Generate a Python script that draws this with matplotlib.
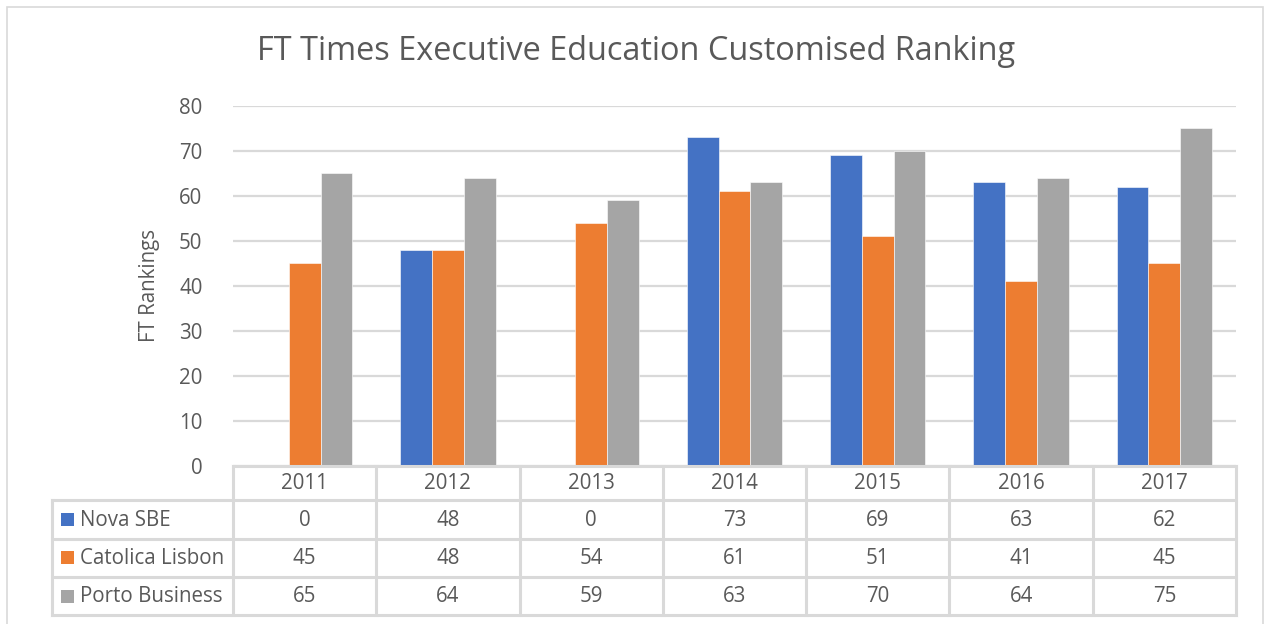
import matplotlib.pyplot as plt
import numpy as np
from matplotlib.patches import Rectangle
from matplotlib.lines import Line2D

# data
years = ['2011', '2012', '2013', '2014', '2015', '2016', '2017']
nova = [0, 48, 0, 73, 69, 63, 62]
catolica = [45, 48, 54, 61, 51, 41, 45]
porto = [65, 64, 59, 63, 70, 64, 75]
series_names = ['Nova SBE', 'Catolica Lisbon', 'Porto Business']
colors = ['#4472C4', '#ED7D31', '#A5A5A5']

plt.rcParams['font.family'] = ['Open Sans', 'DejaVu Sans']
txt = '#595959'
grid_c = '#D9D9D9'
fs = 14.8

W, H = 1265, 624
fig = plt.figure(figsize=(W / 100, H / 100), dpi=100)


def fx(px):
    return px / W


def fy(py):
    return 1 - py / H


# outer chart border
fig.patches.append(Rectangle((fx(7), fy(640)), fx(1263 - 7), (640 - 7) / H,
                             transform=fig.transFigure, fill=False,
                             edgecolor=grid_c, linewidth=1.2))

# ---- bar area ----
left, right, top, bottom = 233, 1236, 105.7, 465.7
ax = fig.add_axes([fx(left), fy(bottom), fx(right - left), (bottom - top) / H])
x = np.arange(len(years))
w = 0.222
for i, vals in enumerate([nova, catolica, porto]):
    ax.bar(x + (i - 1) * w, vals, width=w, color=colors[i],
           edgecolor='white', linewidth=0.4, zorder=3)
ax.set_xlim(-0.5, len(years) - 0.5)
ax.set_ylim(0, 80)
ax.set_yticks(range(0, 81, 10))
ax.set_xticks([])
ax.grid(axis='y', color=grid_c, linewidth=1.6, zorder=0)
for s in ax.spines.values():
    s.set_visible(False)
ax.tick_params(axis='y', length=0, pad=22, labelsize=fs, labelcolor=txt)
ax.set_ylabel('FT Rankings', fontsize=fs, color=txt, labelpad=14)

fig.text(fx(636), fy(52), 'FT Times Executive Education Customised Ranking',
         ha='center', va='center', fontsize=23.4, color=txt)

# ---- data table ----
rows_y = [465.7, 500, 538.5, 577, 615]
col_w = (right - left) / len(years)
lab_left = 52
lc = grid_c
lw = 2.2


def hline(y, x0, x1):
    fig.add_artist(Line2D([fx(x0), fx(x1)], [fy(y), fy(y)], color=lc,
                          linewidth=lw, transform=fig.transFigure))


def vline(xp, y0, y1):
    fig.add_artist(Line2D([fx(xp), fx(xp)], [fy(y0), fy(y1)], color=lc,
                          linewidth=lw, transform=fig.transFigure))


hline(rows_y[0], left, right)
for y in rows_y[1:]:
    hline(y, lab_left, right)
for j in range(len(years) + 1):
    vline(left + j * col_w, rows_y[0], rows_y[-1])
vline(lab_left, rows_y[1], rows_y[-1])

for j, yr in enumerate(years):
    cx = left + (j + 0.5) * col_w
    fig.text(fx(cx), fy((rows_y[0] + rows_y[1]) / 2 + 1), yr, ha='center',
             va='center', fontsize=fs, color=txt)

for i, (name, vals) in enumerate(zip(series_names, [nova, catolica, porto])):
    cy = (rows_y[i + 1] + rows_y[i + 2]) / 2
    fig.patches.append(Rectangle((fx(61), fy(cy + 6.5)), fx(13), 13 / H,
                                 transform=fig.transFigure,
                                 facecolor=colors[i], edgecolor='none'))
    fig.text(fx(80), fy(cy + 1), name, ha='left', va='center', fontsize=fs,
             color=txt)
    for j, v in enumerate(vals):
        cx = left + (j + 0.5) * col_w
        fig.text(fx(cx), fy(cy + 1), str(v), ha='center', va='center',
                 fontsize=fs, color=txt)

fig.savefig('out.png', dpi=100)
